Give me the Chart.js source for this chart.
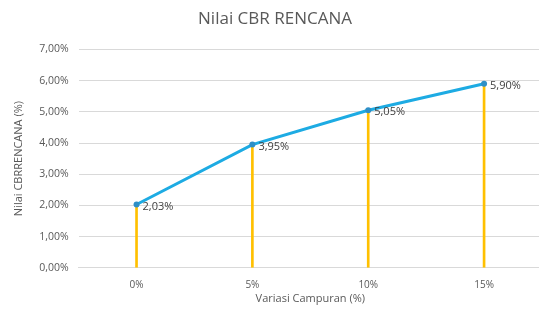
<!DOCTYPE html>
<html>
<head>
<meta charset="utf-8">
<script src="https://cdn.jsdelivr.net/npm/chart.js@4/dist/chart.umd.min.js"></script>
<style>
html,body{margin:0;padding:0;background:#fff;overflow:hidden;}
#wrap{width:539px;height:321px;overflow:hidden;}
</style>
</head>
<body>
<div id="wrap"><canvas id="grafik" width="553" height="321"></canvas></div>
<script>
const kategori = ["0%", "5%", "10%", "15%"];
const nilaiCBR = [2.03, 3.95, 5.05, 5.90];
const tickY = [0, 1, 2, 3, 4, 5, 6, 7];

const warnaGaris = "#1dabe3";
const warnaDrop = "#ffc000";
const warnaTeks = "#595959";

function formatPersen(v){
return v.toFixed(2).replace(".", ",") + "%";
}

// label nilai di kanan titik
const labelNilai = {
id: "labelNilai",
afterDatasetsDraw(chart){
const ctx = chart.ctx;
const meta = chart.getDatasetMeta(1);
ctx.save();
ctx.font = "11px 'Open Sans', sans-serif";
ctx.fillStyle = "#404040";
ctx.textBaseline = "middle";
meta.data.forEach((p, i) => {
ctx.fillText(formatPersen(nilaiCBR[i]), p.x + 6, p.y + 2);
});
ctx.restore();
}
};

new Chart(document.getElementById("grafik"), {
data: {
labels: kategori,
datasets: [
{
type: "bar",
data: nilaiCBR,
backgroundColor: warnaDrop,
barThickness: 2,
order: 2
},
{
type: "line",
data: nilaiCBR,
borderColor: warnaGaris,
borderWidth: 3,
pointRadius: 3,
pointBackgroundColor: "#2e8fc7",
pointBorderColor: "#2e8fc7",
pointBorderWidth: 0,
tension: 0,
order: 1
}
]
},
options: {
responsive: false,
animation: false,
layout: { padding: { left: 8, right: 11, top: 6, bottom: 16 } },
plugins: {
legend: { display: false },
tooltip: { enabled: false },
title: {
display: true,
text: "Nilai CBR RENCANA",
color: warnaTeks,
font: { family: "'Open Sans', sans-serif", size: 17, weight: "normal" },
padding: { top: 3, bottom: 20 }
}
},
scales: {
x: {
grid: { display: false },
border: { color: "#d9d9d9" },
ticks: { color: warnaTeks, font: { family: "'Open Sans', sans-serif", size: 10 }, padding: 3 },
title: {
display: true,
text: "Variasi Campuran (%)",
color: warnaTeks,
font: { family: "'Open Sans', sans-serif", size: 11 },
padding: { top: -2, bottom: 0 }
}
},
y: {
min: 0,
max: 7,
afterBuildTicks(axis){
axis.ticks = tickY.map(v => ({ value: v }));
},
grid: { color: "#d9d9d9", drawTicks: false },
border: { display: false },
ticks: {
color: warnaTeks,
font: { family: "'Open Sans', sans-serif", size: 10.5 },
padding: 10,
callback: v => formatPersen(v)
},
title: {
display: true,
text: "Nilai CBRRENCANA (%)",
color: warnaTeks,
font: { family: "'Open Sans', sans-serif", size: 11 },
padding: { bottom: 4 }
}
}
}
},
plugins: [labelNilai]
});
</script>
</body>
</html>
